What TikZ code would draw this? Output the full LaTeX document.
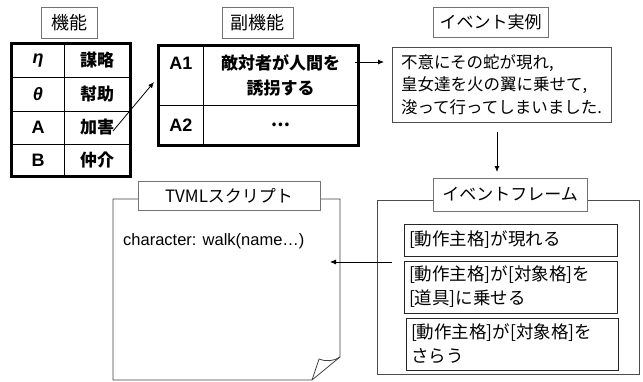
\documentclass[tikz,border=0pt]{standalone}
\usepackage{fontspec}
\setmainfont{Liberation Sans}
\newfontfamily\jp{Noto Sans CJK JP}
\usetikzlibrary{arrows.meta}
\begin{document}
\begin{tikzpicture}[x=1pt,y=-1pt,
  lbl/.style={draw=black!55, fill=white, line width=0.8pt, inner sep=0pt, font=\fontsize{17}{20}\selectfont\jp},
  cell/.style={draw=black, line width=0.8pt, inner sep=0pt, font=\fontsize{18}{20}\selectfont\bfseries},
  jcell/.style={cell, font=\fontsize{17}{25}\selectfont\jp\bfseries},
  ibox/.style={draw=black!85, fill=white, line width=0.8pt, inner xsep=5pt, inner ysep=0pt, align=left, text width=203pt, font=\fontsize{17.5}{24}\selectfont\jp},
  frame/.style={draw=black!70, line width=0.8pt, inner sep=0pt},
  arr/.style={-{Latex[length=6pt,width=5pt]}, line width=0.8pt}
]
\useasboundingbox (0,0) rectangle (643,381);

% top labels
\node[lbl, minimum width=56pt, minimum height=31pt, font=\fontsize{18}{20}\selectfont\jp] (lfunc) at (69,22.5) {機能};
\node[lbl, minimum width=71pt, minimum height=31pt, font=\fontsize{18}{20}\selectfont\jp] (lsub) at (257.5,22.5) {副機能};
\node[lbl, minimum width=115pt, minimum height=30pt] (lev) at (490.5,22) {イベント実例};

% left table
\node[cell, minimum width=52pt, minimum height=33pt] (c11) at (38,60.5) {\textit{η}};
\node[jcell, minimum width=66pt, minimum height=33pt] (c12) at (97,60.5) {謀略};
\node[cell, minimum width=52pt, minimum height=34pt] (c21) at (38,94) {\textit{θ}};
\node[jcell, minimum width=66pt, minimum height=34pt] (c22) at (97,94) {幇助};
\node[cell, minimum width=52pt, minimum height=33pt] (c31) at (38,127.5) {A};
\node[jcell, minimum width=66pt, minimum height=33pt] (c32) at (97,127.5) {加害};
\node[cell, minimum width=52pt, minimum height=32pt] (c41) at (38,160) {B};
\node[jcell, minimum width=66pt, minimum height=32pt] (c42) at (97,160) {仲介};
\draw[line width=3pt] (c11.north west) rectangle (c42.south east);

% sub-function table
\node[cell, minimum width=44pt, minimum height=59pt] (s11) at (181,75.5) {};
\node[cell, draw=none, anchor=center] (s11t) at (181,63) {A1};
\node[jcell, minimum width=155pt, minimum height=59pt, align=center] (s12) at (280.5,75.5) {敵対者が人間を\\誘拐する};
\node[cell, minimum width=44pt, minimum height=40pt] (s21) at (181,125) {A2};
\node[jcell, minimum width=155pt, minimum height=40pt] (s22) at (280.5,125) {…};
\draw[line width=3pt] (s11.north west) rectangle (s22.south east);

% event instance
\node[frame, minimum width=219pt, minimum height=75pt, align=left, font=\fontsize{16.5}{22.5}\selectfont\jp] (ev) at (501.5,84.5)
  {不意にその蛇が現れ,\\皇女達を火の翼に乗せて,\\浚って行ってしまいました.};

% event frame
\node[frame, minimum width=262pt, minimum height=174pt] (ef) at (508,287) {};
\node[lbl, minimum width=154pt, minimum height=33pt] (lef) at (510,194.5) {イベントフレーム};
\node[ibox, minimum height=32pt] (b1) at (510.5,240) {[動作主格]が現れる};
\node[ibox, minimum height=52pt] (b2) at (510.5,287) {[動作主格]が[対象格]を\\{}[道具]に乗せる};
\node[ibox, minimum height=52pt, text width=202pt] (b3) at (512,344) {[動作主格]が[対象格]を\\さらう};

% TVML script document
\draw[draw=black!75, line width=0.8pt, line join=round] (113,199) -- (340,199) -- (340,357) -- (312,380) -- (113,380) -- cycle;
\draw[draw=black!75, line width=0.8pt, line join=round] (312,380) -- (319,359) .. controls (327,362) and (334,361) .. (340,357);
\node[lbl, minimum width=182pt, minimum height=29pt] (ltv) at (229,195.5) {TVML{\jp スクリプト}};
\node[anchor=base west, inner sep=0pt, font=\fontsize{16.5}{20}\selectfont] (code) at (123,245) {character: walk(name…)};

% connectors
\coordinate (a1s) at (113,131);
\coordinate (a1e) at (154,82);
\draw[arr] (a1s) -- (a1e);
\coordinate (a2s) at (355,62);
\coordinate (a2e) at (384,62);
\draw[arr] (a2s) -- (a2e);
\coordinate (a3s) at (497,132);
\coordinate (a3e) at (497,172);
\draw[arr] (a3s) -- (a3e);
\coordinate (a4s) at (392,262);
\coordinate (a4e) at (330,262);
\draw[arr] (a4s) -- (a4e);
\end{tikzpicture}
\end{document}
